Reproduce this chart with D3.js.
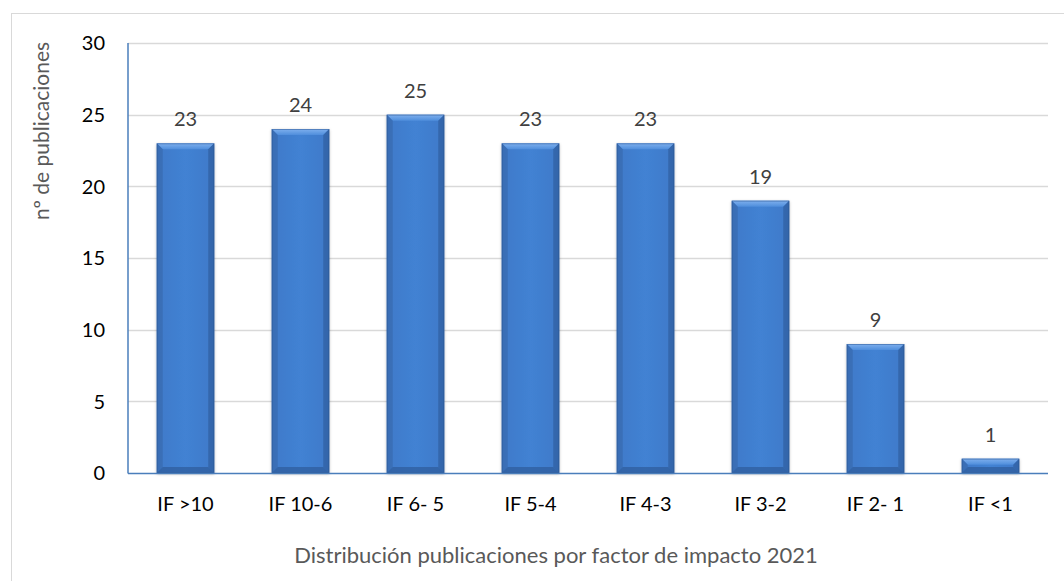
<!DOCTYPE html>
<html><head><meta charset="utf-8">
<script src="https://cdn.jsdelivr.net/npm/d3@7"></script>
<style>
html,body{margin:0;padding:0;background:#fff;}
svg{display:block;font-family:Lato,"Open Sans",sans-serif;}
</style></head>
<body><svg id="c" width="1064" height="581"></svg>
<script>
const categories = ["IF >10","IF 10-6","IF 6- 5","IF 5-4","IF 4-3","IF 3-2","IF 2- 1","IF <1"];
const values = [23,24,25,23,23,19,9,1];
const yTicks = [0,5,10,15,20,25,30];
const yTitle = "nº de publicaciones";
const xTitle = "Distribución publicaciones por factor de impacto 2021";

const svg = d3.select("#c");
const m = {l:128, r:1048, t:43, b:473};

svg.append("rect").attr("x",11.5).attr("y",13.5).attr("width",1070).attr("height",600)
  .attr("fill","#fff").attr("stroke","#d9d9d9").attr("stroke-width",1);

const x = d3.scaleBand().domain(categories).range([m.l,m.r]).paddingInner(0.5).paddingOuter(0.25);
const y = d3.scaleLinear().domain([0,30]).range([m.b,m.t]);

svg.append("g").selectAll("line").data(yTicks.filter(d=>d>0)).join("line")
  .attr("x1",m.l).attr("x2",m.r).attr("y1",d=>Math.round(y(d))+0.5).attr("y2",d=>Math.round(y(d))+0.5)
  .attr("stroke","#d9d9d9").attr("stroke-width",1.3);

svg.append("g").selectAll("text").data(yTicks).join("text")
  .attr("x",105).attr("y",d=>y(d)).attr("dy","0.36em").attr("text-anchor","end")
  .attr("font-size",20).attr("fill","#000").text(d=>d);

const defs = svg.append("defs");
const g1 = defs.append("linearGradient").attr("id","body").attr("x1","0").attr("x2","1").attr("y1","0").attr("y2","0");
g1.append("stop").attr("offset","0").attr("stop-color","#3a6fb8");
g1.append("stop").attr("offset","0.1").attr("stop-color","#3f7bcb");
g1.append("stop").attr("offset","0.5").attr("stop-color","#4282d3");
g1.append("stop").attr("offset","0.9").attr("stop-color","#3f7bcb");
g1.append("stop").attr("offset","1").attr("stop-color","#3a6fb8");
const g2 = defs.append("linearGradient").attr("id","topb").attr("x1","0").attr("x2","0").attr("y1","0").attr("y2","1");
g2.append("stop").attr("offset","0").attr("stop-color","#7fb0ee");
g2.append("stop").attr("offset","1").attr("stop-color","#4f8edc");
const f = defs.append("filter").attr("id","sh").attr("x","-20%").attr("y","-20%").attr("width","140%").attr("height","140%");
f.append("feDropShadow").attr("dx",0).attr("dy",1).attr("stdDeviation",1.5).attr("flood-color","#000").attr("flood-opacity",0.3);

const bars = svg.append("g").selectAll("g").data(values.map((v,i)=>({c:categories[i],v}))).join("g");
bars.each(function(d){
  const g = d3.select(this);
  const x0 = x(d.c), w = x.bandwidth(), y0 = y(d.v), y1 = y(0), h = y1-y0;
  const bv = Math.min(6, h/2);
  g.append("rect").attr("x",x0).attr("y",y0).attr("width",w).attr("height",h)
    .attr("fill","url(#body)").attr("filter","url(#sh)");
  g.append("polygon").attr("points",[[x0,y0],[x0+w,y0],[x0+w-bv,y0+bv],[x0+bv,y0+bv]].join(" "))
    .attr("fill","url(#topb)");
  g.append("polygon").attr("points",[[x0,y0],[x0+bv,y0+bv],[x0+bv,y1-bv],[x0,y1]].join(" "))
    .attr("fill","#3a6db3").attr("opacity",0.8);
  g.append("polygon").attr("points",[[x0+w,y0],[x0+w-bv,y0+bv],[x0+w-bv,y1-bv],[x0+w,y1]].join(" "))
    .attr("fill","#3263a6").attr("opacity",0.8);
  g.append("polygon").attr("points",[[x0,y1],[x0+bv,y1-bv],[x0+w-bv,y1-bv],[x0+w,y1]].join(" "))
    .attr("fill","#2f5e9e").attr("opacity",0.75);
  g.append("rect").attr("x",x0+0.5).attr("y",y0+0.5).attr("width",w-1).attr("height",h-1)
    .attr("fill","none").attr("stroke","#2b5591").attr("stroke-width",1).attr("opacity",0.5);
});

svg.append("g").selectAll("text").data(values).join("text")
  .attr("x",(d,i)=>x(categories[i])+x.bandwidth()/2).attr("y",d=>y(d)-17)
  .attr("text-anchor","middle").attr("font-size",20).attr("fill","#404040").text(d=>d);

svg.append("line").attr("x1",m.l).attr("x2",m.l).attr("y1",m.t).attr("y2",m.b+0.5)
  .attr("stroke","#4a7ebb").attr("stroke-width",1.5);
svg.append("line").attr("x1",m.l).attr("x2",m.r).attr("y1",m.b+0.5).attr("y2",m.b+0.5)
  .attr("stroke","#4a7ebb").attr("stroke-width",1.5);

svg.append("g").selectAll("text").data(categories).join("text")
  .attr("x",d=>x(d)+x.bandwidth()/2).attr("y",511)
  .attr("text-anchor","middle").attr("font-size",20).attr("fill","#000").text(d=>d);

svg.append("text").attr("x",556).attr("y",563).attr("text-anchor","middle")
  .attr("font-size",22).attr("fill","#595959").text(xTitle);
svg.append("text").attr("transform","translate(41,131) rotate(-90)").attr("dy","0.36em")
  .attr("text-anchor","middle").attr("font-size",21).attr("fill","#595959").text(yTitle);
</script></body></html>
